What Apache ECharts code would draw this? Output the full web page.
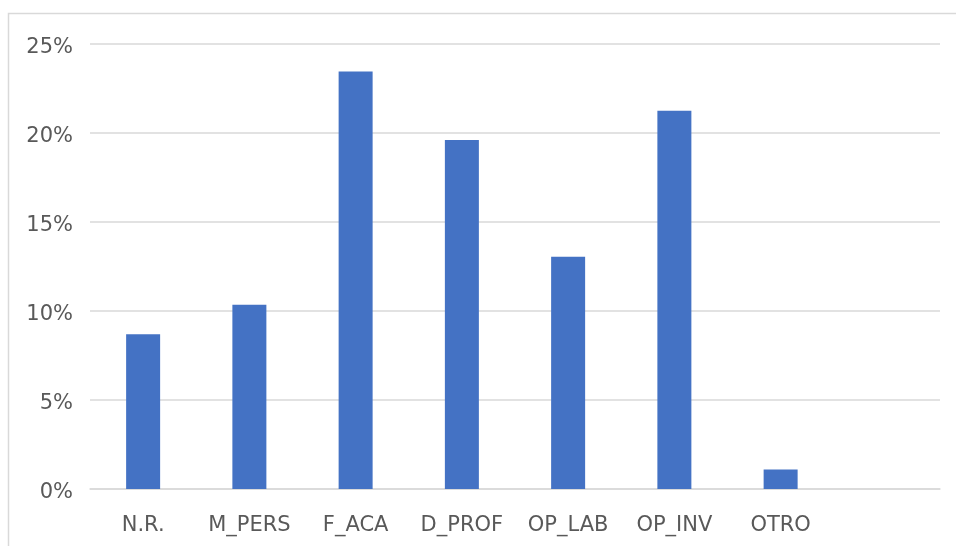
<!DOCTYPE html>
<html>
<head>
<meta charset="utf-8">
<script src="https://cdn.jsdelivr.net/npm/echarts@6/dist/echarts.min.js"></script>
<style>
  html, body { margin: 0; padding: 0; background: #ffffff; }
  #chart { width: 956px; height: 546px; }
</style>
</head>
<body>
<div id="chart"></div>
<script>
// Categories (the last slot is left empty)
const categories = ['N.R.', 'M_PERS', 'F_ACA', 'D_PROF', 'OP_LAB', 'OP_INV', 'OTRO', ''];
// Share per category, in percent
const shares = [8.7, 10.35, 23.45, 19.6, 13.05, 21.25, 1.1, null];
// Value axis ticks
const yMin = 0;
const yMax = 25;
const yStep = 5;

const chart = echarts.init(document.getElementById('chart'), null, { renderer: 'canvas' });

chart.setOption({
  backgroundColor: '#ffffff',
  animation: false,
  textStyle: { fontFamily: 'DejaVu Sans' },
  graphic: [{
    type: 'rect',
    shape: { x: 8.5, y: 13.5, width: 1000, height: 600 },
    style: { fill: 'none', stroke: '#d9d9d9', lineWidth: 1.5 },
    silent: true
  }],
  grid: { left: 90, right: 16, top: 44, bottom: 57, containLabel: false },
  xAxis: {
    type: 'category',
    data: categories,
    axisLine: { show: true, lineStyle: { color: '#d9d9d9', width: 1.5 } },
    axisTick: { show: false },
    axisLabel: { color: '#595959', fontSize: 21, margin: 26, interval: 0, fontFamily: 'DejaVu Sans' }
  },
  yAxis: {
    type: 'value',
    min: yMin,
    max: yMax,
    interval: yStep,
    axisLine: { show: false },
    axisTick: { show: false },
    splitLine: { lineStyle: { color: '#d9d9d9', width: 1.5 } },
    axisLabel: {
      color: '#595959', fontSize: 21, margin: 17, formatter: '{value}%',
      fontFamily: 'DejaVu Sans', verticalAlign: 'top', lineHeight: 8
    }
  },
  series: [{
    type: 'bar',
    data: shares,
    barWidth: 34,
    itemStyle: { color: '#4472c4' }
  }]
});
</script>
</body>
</html>
